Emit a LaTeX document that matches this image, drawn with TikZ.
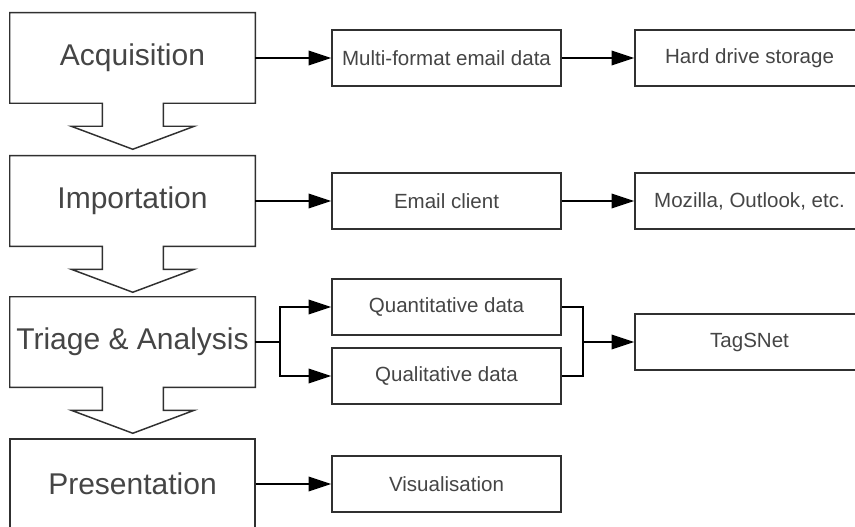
\documentclass[tikz,border=0pt]{standalone}
\usepackage{fontspec}
\setmainfont{Liberation Sans}
\usetikzlibrary{arrows.meta}
\definecolor{edgegray}{HTML}{303030}
\definecolor{labelgray}{HTML}{454545}

\begin{document}
\begin{tikzpicture}[x=0.75pt, y=-0.75pt,
    stage/.style={rectangle, minimum width=183.75pt, minimum height=67.5pt, inner sep=0pt, text=labelgray, font=\fontsize{22.5}{26}\selectfont},
    item/.style={draw=edgegray, line width=1.1pt, rectangle, minimum width=171.75pt, minimum height=42pt, inner sep=0pt, text=labelgray, font=\fontsize{15.4}{18}\selectfont},
    outline/.style={draw=edgegray, line width=1.1pt},
    flow/.style={-{Triangle[length=17pt, width=11pt]}, line width=1.1pt, black}]
    \clip (0,0) rectangle (855,527);
    \fill[white] (0,0) rectangle (855,527);

    % Stages
    \node[stage] (acq) at (132.5,58) {Acquisition};
    \node[stage] (imp) at (132.5,201) {Importation};
    \node[stage] (tri) at (132.5,342) {Triage \& Analysis};
    \node[stage, outline] (pres) at (132.5,484) {Presentation};

    % Stage outlines with block arrow to the next one
    \foreach \s in {acq,imp,tri}
      \draw[outline] (\s.north west) -- (\s.north east) -- (\s.south east) -- ++(-92,0) -- ++(0,23) -- ++(31,0) -- ++(-61.5,23) -- ++(-61.5,-23) -- ++(31,0) -- ++(0,-23) -- (\s.south west) -- cycle;

    % Outputs
    \node[item] (fmt) at (446.5,58) {Multi-format email data};
    \node[item] (hdd) at (749.5,58) {Hard drive storage};
    \node[item] (client) at (446.5,201) {Email client};
    \node[item] (mua) at (749.5,201) {Mozilla, Outlook, etc.};
    \node[item] (quant) at (446.5,307) {Quantitative data};
    \node[item] (qual) at (446.5,376) {Qualitative data};
    \node[item] (tags) at (749.5,342) {TagSNet};
    \node[item] (vis) at (446.5,484) {Visualisation};

    % Flows
    \draw[flow] (acq.east) -- (fmt.west);
    \draw[flow] (fmt.east) -- (hdd.west);
    \draw[flow] (imp.east) -- (client.west);
    \draw[flow] (client.east) -- (mua.west);
    \draw[flow] (pres.east) -- (vis.west);

    % Split and join
    \coordinate (split) at (280,342);
    \coordinate (join) at (583,342);
    \draw[flow] (tri.east) -- (split) |- (quant.west);
    \draw[flow] (split) |- (qual.west);
    \draw[line width=1.1pt] (quant.east) -| (join) |- (qual.east);
    \draw[flow] (join) -- (tags.west);
\end{tikzpicture}
\end{document}
